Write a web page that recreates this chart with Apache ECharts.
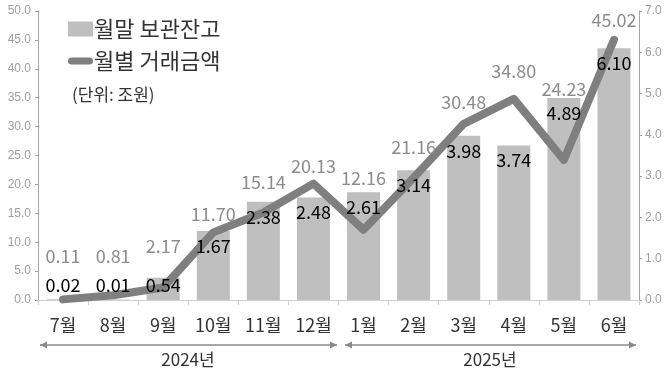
<!DOCTYPE html>
<html><head><meta charset="utf-8">
<script src="https://cdn.jsdelivr.net/npm/echarts@6/dist/echarts.min.js"></script>
<style>html,body{margin:0;padding:0;background:#fff}#c{width:670px;height:373px}</style>
</head><body><div id="c"></div>
<script>
const categories = ['7월','8월','9월','10월','11월','12월','1월','2월','3월','4월','5월','6월'];
const balanceVals = [0.02, 0.01, 0.54, 1.67, 2.38, 2.48, 2.61, 3.14, 3.98, 3.74, 4.89, 6.10];
const tradeVals = [0.11, 0.81, 2.17, 11.70, 15.14, 20.13, 12.16, 21.16, 30.48, 34.80, 24.23, 45.02];
const leftTicks = {min: 0, max: 50, interval: 5};
const rightTicks = {min: 0, max: 7, interval: 1};
const yearLabels = ['2024년', '2025년'];
// label lift (px) for the grey value labels, style only
const greyLift = [29, 25, 27, 4, 16, 3, 38, 16, 8, 14, 57, 6];

const FONT = '"Noto Sans CJK KR", "Noto Sans", sans-serif';
const chart = echarts.init(document.getElementById('c'), null, {renderer: 'canvas'});

const arrowColor = '#8a8a8a';
function arrow(x1, x2, y) {
  return [
    {type: 'line', shape: {x1: x1, y1: y, x2: x2, y2: y}, style: {stroke: arrowColor, lineWidth: 1.3}},
    {type: 'polygon', shape: {points: [[x1, y], [x1 + 7, y - 3.5], [x1 + 7, y + 3.5]]}, style: {fill: arrowColor}},
    {type: 'polygon', shape: {points: [[x2, y], [x2 - 7, y - 3.5], [x2 - 7, y + 3.5]]}, style: {fill: arrowColor}}
  ];
}

chart.setOption({
  animation: false,
  textStyle: {fontFamily: FONT},
  grid: {left: 38, right: 31, top: 11, bottom: 73, containLabel: false},
  legend: {
    data: [
      {name: '월말 보관잔고', icon: 'rect', itemStyle: {color: '#bfbfbf'}},
      {name: '월별 거래금액', icon: 'path://M3.5,0 L21.5,0 A3.5,3.5 0 0 1 21.5,7 L3.5,7 A3.5,3.5 0 0 1 3.5,0 Z',
       itemStyle: {color: '#7f7f7f', opacity: 1}}
    ],
    orient: 'vertical', left: 63, top: 13,
    itemWidth: 25, itemHeight: 15, itemGap: 10,
    symbolKeepAspect: true,
    textStyle: {fontSize: 22, color: '#333', fontFamily: FONT, padding: [0, 0, 0, -4]},
    selectedMode: false
  },
  xAxis: {
    type: 'category', data: categories,
    axisLine: {lineStyle: {color: '#cfcfcf'}},
    axisTick: {show: true, length: 5, lineStyle: {color: '#cfcfcf'}},
    axisLabel: {fontSize: 18, color: '#333', margin: 16, fontFamily: FONT}
  },
  yAxis: [
    {type: 'value', min: leftTicks.min, max: leftTicks.max, interval: leftTicks.interval,
     axisLine: {show: true, lineStyle: {color: '#a6a6a6'}},
     axisTick: {show: true, length: 3, lineStyle: {color: '#a6a6a6'}},
     splitLine: {show: false},
     axisLabel: {formatter: v => v.toFixed(1), color: '#a0a0a0', fontSize: 12, margin: 7, fontFamily: 'Liberation Sans, sans-serif'}},
    {type: 'value', min: rightTicks.min, max: rightTicks.max, interval: rightTicks.interval,
     axisLine: {show: true, lineStyle: {color: '#a6a6a6'}},
     axisTick: {show: true, length: 3, lineStyle: {color: '#a6a6a6'}},
     splitLine: {show: false},
     axisLabel: {formatter: v => v.toFixed(1), color: '#a0a0a0', fontSize: 12, margin: 6, fontFamily: 'Liberation Sans, sans-serif'}}
  ],
  series: [
    {name: '월말 보관잔고', type: 'bar', yAxisIndex: 1, data: balanceVals,
     barWidth: 33, itemStyle: {color: '#bfbfbf'}, z: 2},
    {name: '월별 거래금액', type: 'line', yAxisIndex: 0,
     data: tradeVals.map((v, i) => ({value: v, label: {offset: [0, -greyLift[i]]}})),
     symbol: 'circle', symbolSize: 0.1, showSymbol: true,
     lineStyle: {color: '#7f7f7f', width: 8, cap: 'round', join: 'round'},
     itemStyle: {color: '#7f7f7f'}, z: 3,
     label: {show: true, position: 'top', distance: 5, color: '#8c8c8c', fontSize: 18,
             fontFamily: FONT, formatter: p => p.value.toFixed(2)}},
    {name: 'balance-labels', type: 'bar', yAxisIndex: 1, barGap: '-100%', barWidth: 33,
     data: balanceVals.map(v => v < 1 ? {value: v, label: {position: 'insideBottom', distance: 6}} : v),
     itemStyle: {color: 'rgba(0,0,0,0)'}, z: 5, silent: true,
     label: {show: true, position: 'insideTop', distance: 6, color: '#000', fontSize: 18,
             fontFamily: FONT, formatter: p => p.value.toFixed(2)}}
  ],
  graphic: [
    {type: 'text', left: 72, top: 86, style: {text: '(단위: 조원)', font: '17px ' + FONT, fill: '#333'}},
    ...arrow(40, 337, 345),
    ...arrow(345, 636, 345),
    {type: 'text', x: 188, y: 360, style: {text: yearLabels[0], font: '17px ' + FONT, fill: '#333', align: 'center', verticalAlign: 'middle'}},
    {type: 'text', x: 490, y: 360, style: {text: yearLabels[1], font: '17px ' + FONT, fill: '#333', align: 'center', verticalAlign: 'middle'}}
  ]
});
</script></body></html>
